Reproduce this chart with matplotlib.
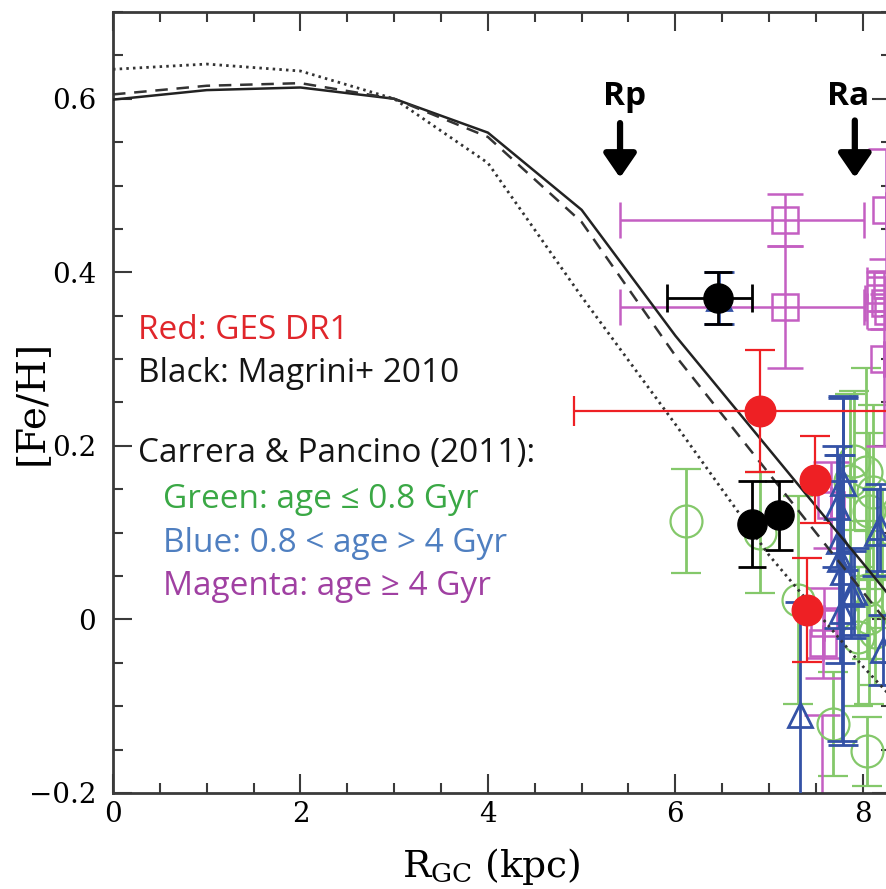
import numpy as np
import matplotlib
matplotlib.use('Agg')
import matplotlib.pyplot as plt

plt.rcParams['font.family'] = 'DejaVu Serif'
plt.rcParams['mathtext.fontset'] = 'dejavuserif'

# model gradients (solid / dashed / dotted)
r_model = [0, 1, 2, 3, 4, 5, 6, 7, 8, 9]
feh_solid = [0.599, 0.610, 0.613, 0.600, 0.561, 0.472, 0.327, 0.196, 0.065, -0.067]
feh_dashed = [0.605, 0.615, 0.618, 0.600, 0.556, 0.458, 0.304, 0.168, 0.032, -0.104]
feh_dotted = [0.634, 0.640, 0.632, 0.600, 0.526, 0.372, 0.225, 0.074, -0.054, -0.170]

# Magrini+ 2010 (black)
mag_r = [6.45, 6.82, 7.11]
mag_feh = [0.370, 0.110, 0.120]
mag_rerr_lo = [0.54, 0.0, 0.0]
mag_rerr_hi = [0.37, 0.0, 0.0]
mag_feh_err = [0.03, 0.05, 0.04]

# GES DR1 (red)
ges_r = [6.90, 7.49, 7.41]
ges_feh = [0.240, 0.161, 0.011]
ges_rerr = [1.98, 0.0, 0.0]
ges_feh_err = [0.07, 0.05, 0.06]

# Carrera & Pancino 2011, age <= 0.8 Gyr (green)
young_r = [6.11, 6.90, 7.31, 7.68, 8.04, 7.91, 8.11, 8.07, 8.05, 8.07, 8.13, 8.20, 7.95, 7.86, 8.03]
young_feh = [0.113, 0.100, 0.022, -0.120, -0.152, 0.183, 0.147, 0.125, 0.034, 0.002,
             -0.015, 0.070, -0.020, 0.160, 0.170]
young_feh_err = [0.06, 0.07, 0.12, 0.06, 0.04, 0.08, 0.10, 0.09, 0.08, 0.10,
                 0.06, 0.08, 0.08, 0.10, 0.12]

# Carrera & Pancino 2011, 0.8-4 Gyr (blue)
mid_r = [6.47, 7.33, 7.79, 7.72, 7.75, 7.79, 7.87, 7.91, 8.15, 8.18, 8.22, 7.76, 7.78]
mid_feh = [0.370, -0.110, 0.157, 0.130, 0.090, 0.055, 0.029, 0.032, 0.100, 0.106,
           -0.035, 0.070, 0.010]
mid_feh_err = [0.03, 0.13, 0.10, 0.07, 0.10, 0.20, 0.05, 0.05, 0.05, 0.05, 0.04, 0.12, 0.15]

# Carrera & Pancino 2011, age >= 4 Gyr (magenta)
old_r = [7.17, 7.17, 8.25, 8.26, 8.24, 8.27, 8.23, 7.66, 7.59, 7.58, 7.57]
old_feh = [0.460, 0.360, 0.472, 0.385, 0.365, 0.355, 0.300, 0.132, -0.004, -0.027, -0.26]
old_rerr_lo = [1.76, 1.76, 0.0, 0.22, 0.22, 0.22, 0.0, 0.0, 0.0, 0.0, 0.0]
old_rerr_hi = [0.84, 0.84, 0.0, 0.22, 0.22, 0.22, 0.0, 0.0, 0.0, 0.0, 0.0]
old_feh_err = [0.03, 0.07, 0.07, 0.03, 0.03, 0.02, 0.10, 0.05, 0.04, 0.04, 0.15]

xticks = [0, 2, 4, 6, 8]
xticklabels = ['0', '2', '4', '6', '8']
yticks = [-0.2, 0.0, 0.2, 0.4, 0.6]
yticklabels = ['\u22120.2', '0', '0.2', '0.4', '0.6']

red = '#ee2024'
green = '#84c86a'
blue = '#3452a6'
magenta = '#c45fc2'

fig = plt.figure(figsize=(8.87, 8.89), dpi=100)
ax = fig.add_axes([0.1274, 0.108, 0.877, 0.8785])

ax.plot(r_model, feh_solid, color='#222222', lw=1.8, zorder=5)
ax.plot(r_model, feh_dashed, color='#333333', lw=1.8, ls=(0, (5, 3.5)), zorder=5)
ax.plot(r_model, feh_dotted, color='#333333', lw=2.0, ls=(0, (0.9, 1.5)), zorder=5)

ax.errorbar(young_r, young_feh, yerr=young_feh_err, fmt='o', ms=23, mfc='none',
            mec=green, mew=1.6, color=green, elinewidth=2.0, capsize=11, capthick=2.0, zorder=2)
ax.errorbar(mid_r, mid_feh, yerr=mid_feh_err, fmt='^', ms=17, mfc='none',
            mec=blue, mew=2.0, color=blue, elinewidth=2.0, capsize=11, capthick=2.0, zorder=3)
ax.errorbar(old_r, old_feh, xerr=[old_rerr_lo, old_rerr_hi], yerr=old_feh_err, fmt='s',
            ms=19, mfc='none', mec=magenta, mew=1.8, color=magenta, elinewidth=1.8,
            capsize=13, capthick=1.8, zorder=2)
ax.errorbar(mag_r, mag_feh, xerr=[mag_rerr_lo, mag_rerr_hi], yerr=mag_feh_err, fmt='o',
            ms=21, color='black', elinewidth=2.0, capsize=10, capthick=2.0, zorder=6)
ax.errorbar(ges_r, ges_feh, xerr=ges_rerr, yerr=ges_feh_err, fmt='o', ms=22,
            color=red, elinewidth=1.6, capsize=11, capthick=1.6, zorder=6)

ax.set_xlim(0, 8.3)
ax.set_ylim(-0.2, 0.7)
ax.set_xticks(xticks)
ax.set_xticklabels(xticklabels)
ax.set_yticks(yticks)
ax.set_yticklabels(yticklabels)
ax.set_xticks(np.arange(0, 8.3, 0.5), minor=True)
ax.set_yticks(np.arange(-0.2, 0.71, 0.05), minor=True)
ax.tick_params(which='both', direction='in', top=True, right=True, color='#3a3a3a', width=1.5)
ax.tick_params(which='major', length=14, labelsize=20)
ax.tick_params(axis='x', which='major', pad=6)
ax.tick_params(axis='y', which='major', pad=12)
ax.tick_params(which='minor', length=7)
for s in ax.spines.values():
    s.set_linewidth(2.0)
    s.set_color('#3a3a3a')

ax.set_xlabel(r'R$_{\rm GC}$ (kpc)', fontsize=27)
ax.set_ylabel('[Fe/H]', fontsize=28)
ax.xaxis.set_label_coords(0.486, -0.068)
ax.yaxis.set_label_coords(-0.081, 0.5)

# key written inside the axes
sans = ['Open Sans', 'DejaVu Sans']
fs = 24
ax.text(0.267, 0.323, 'Red: GES DR1', color='#e0262b', fontsize=fs, family=sans)
ax.text(0.267, 0.2736, 'Black: Magrini+ 2010', color='#151515', fontsize=fs, family=sans)
ax.text(0.267, 0.1814, 'Carrera & Pancino (2011):', color='#151515', fontsize=fs, family=sans)
ax.text(0.533, 0.1284, 'Green: age \u2264 0.8 Gyr', color='#3aa845', fontsize=fs, family=sans)
ax.text(0.533, 0.0777, 'Blue: 0.8 < age > 4 Gyr', color='#4f7fc0', fontsize=fs, family=sans)
ax.text(0.533, 0.0282, 'Magenta: age \u2265 4 Gyr', color='#a040a2', fontsize=fs, family=sans)

# peri- and apocentre markers
arrow = dict(arrowstyle='-|>,head_width=0.55,head_length=0.8', lw=4.5, color='black',
             mutation_scale=18, shrinkA=0, shrinkB=0)
ax.annotate('', xy=(5.41, 0.509), xytext=(5.41, 0.572), arrowprops=arrow, zorder=7)
ax.annotate('', xy=(7.915, 0.509), xytext=(7.915, 0.575), arrowprops=arrow, zorder=7)
ax.text(5.46, 0.603, 'Rp', fontsize=24, fontweight='bold', family=sans, ha='center', va='center')
ax.text(7.84, 0.603, 'Ra', fontsize=24, fontweight='bold', family=sans, ha='center', va='center')

fig.savefig('out.png', dpi=100)
